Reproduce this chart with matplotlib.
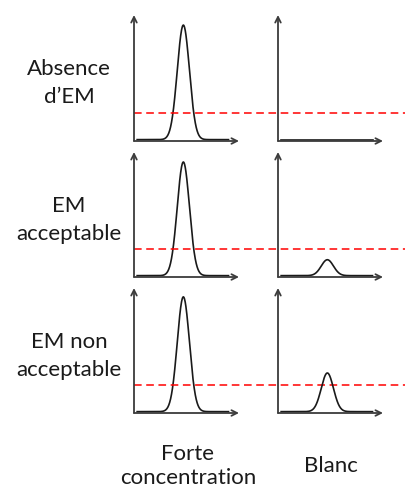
import numpy as np
import matplotlib.pyplot as plt
from matplotlib import transforms

# rows and columns
row_labels = ["Absence\nd\u2019EM", "EM\nacceptable", "EM non\nacceptable"]
col_labels = ["Forte\nconcentration", "Blanc"]

# peak heights (relative) for each row: high concentration and blank
forte_heights = [1.00, 1.00, 1.01]
blanc_heights = [0.00, 0.14, 0.34]
thresholds = [0.245, 0.245, 0.25]
peak_center = 4.7
peak_sigma = 0.58

plt.rcParams['font.family'] = ['Lato', 'DejaVu Sans']

W, H = 406, 488
fig = plt.figure(figsize=(W / 100, H / 100), dpi=100)

# pixel layout of the panels (top, baseline) per row
row_px = [(15, 141), (152, 277), (288, 413)]
col_px = [134, 278]
panel_w = 105

axis_color = '#3c3c3c'
text_color = '#1a1a1a'


def draw_panel(ax, height):
    ax.set_xlim(0, 10)
    ax.set_ylim(0, 1.1)
    ax.axis('off')
    # axes with arrows
    ax.annotate('', xy=(0, 1), xytext=(0, 0), xycoords='axes fraction',
                arrowprops=dict(arrowstyle='->', color=axis_color, lw=1.3,
                                shrinkA=0, shrinkB=0, mutation_scale=10))
    ax.annotate('', xy=(1, 0), xytext=(0, 0), xycoords='axes fraction',
                arrowprops=dict(arrowstyle='->', color=axis_color, lw=1.3,
                                shrinkA=0, shrinkB=0, mutation_scale=10))
    x = np.linspace(0.3, 9.0, 400)
    y = 0.012 + height * np.exp(-0.5 * ((x - peak_center) / peak_sigma) ** 2)
    ax.plot(x, y, color='#1a1a1a', lw=1.2, clip_on=False)


for r, (top, base) in enumerate(row_px):
    axes = []
    for c, left in enumerate(col_px):
        ax = fig.add_axes([left / W, (H - base) / H, panel_w / W, (base - top) / H])
        h = forte_heights[r] if c == 0 else blanc_heights[r]
        draw_panel(ax, h)
        axes.append(ax)
    # red threshold line across both panels to the figure edge
    trans = transforms.blended_transform_factory(fig.transFigure, axes[0].transData)
    axes[0].plot([col_px[0] / W, 1.0], [thresholds[r], thresholds[r]],
                 transform=trans, color='red', lw=1.1, ls=(0, (5, 3)),
                 clip_on=False)
    # row label
    fig.text(69 / W, 1 - ((top + base) / 2 + 5) / H, row_labels[r],
             ha='center', va='center', fontsize=16, color=text_color,
             linespacing=1.5)

# column labels
fig.text(188 / W, 1 - 466 / H, col_labels[0], ha='center', va='center',
         fontsize=16, color=text_color, linespacing=1.3)
fig.text(331 / W, 1 - 466 / H, col_labels[1], ha='center', va='center',
         fontsize=16, color=text_color)

fig.savefig('out.png', dpi=100)
